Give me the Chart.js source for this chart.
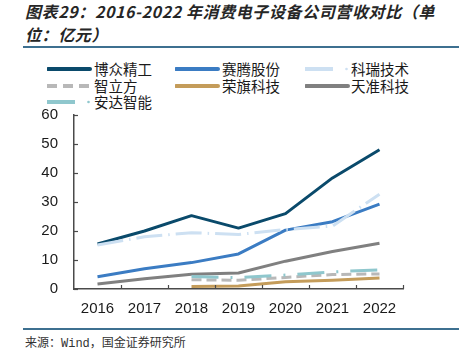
<!DOCTYPE html>
<html><head><meta charset="utf-8">
<script src="https://cdn.jsdelivr.net/npm/chart.js@4"></script>
<style>
html,body{margin:0;padding:0;background:#fff;width:459px;height:354px;overflow:hidden;position:relative;font-family:"Liberation Sans","Noto Sans CJK SC",sans-serif;}
#title{position:absolute;left:25px;top:0px;font-family:"Noto Sans CJK SC";font-size:16px;font-weight:bold;font-style:italic;color:#262626;line-height:23px;letter-spacing:0.6px;white-space:nowrap;}
#rule1{position:absolute;left:23px;top:46px;width:436px;height:2px;background:#3d7090;}
#rule2{position:absolute;left:23px;top:328px;width:436px;height:2px;background:#3d7090;}
#src{position:absolute;left:25px;top:336px;font-family:"Liberation Mono","Noto Sans CJK SC",monospace;font-size:12px;color:#333;line-height:16px;}
.lg{position:absolute;font-family:"Noto Sans CJK SC";font-size:14.5px;color:#1a1a1a;line-height:16px;white-space:nowrap;}
.lg svg{position:absolute;top:0;}
#wrap{position:absolute;left:0;top:90px;width:459px;height:235px;}
</style></head><body>
<div id="title">图表29：2016-2022 年消费电子设备公司营收对比（单<br>位：亿元）</div>
<div id="rule1"></div>
<div id="legend"></div>
<div id="wrap"><canvas id="c" width="459" height="235"></canvas></div>
<div id="rule2"></div>
<div id="src">来源：Wind，国金证券研究所</div>
<script>
const categories = ["2016","2017","2018","2019","2020","2021","2022"];
const seriesNames = ["博众精工","赛腾股份","科瑞技术","智立方","荣旗科技","天准科技","安达智能"];
const bozhong = [15.5, 20.0, 25.3, 21.0, 26.0, 38.3, 48.0];
const saiteng = [4.2, 7.0, 9.1, 12.1, 20.3, 23.2, 29.3];
const kerui = [15.2, 18.0, 19.4, 18.8, 20.5, 21.7, 32.7];
const zhilifang = [null, null, 3.2, 3.0, 4.0, 5.0, 5.2];
const rongqi = [null, null, 0.9, 1.0, 2.5, 3.0, 3.8];
const tianzhun = [1.7, 3.5, 5.1, 5.5, 9.6, 12.9, 15.8];
const anda = [null, null, 4.3, 3.9, 4.8, 5.9, 6.6];
const yTicks = [0,10,20,30,40,50,60];

const styles = [
  {c:"#0a4a6b", d:[]},
  {c:"#3b7cc3", d:[]},
  {c:"#cde0f2", d:[26,6,1.5,6]},
  {c:"#b8b8b8", d:[10,5]},
  {c:"#c49c5a", d:[]},
  {c:"#808080", d:[]},
  {c:"#8fc7cd", d:[27,12,2,12]}
];
const values = [bozhong, saiteng, kerui, zhilifang, rongqi, tianzhun, anda];

// legend (HTML)
const legendPos = [
  {x:47,y:61},{x:175,y:61},{x:305,y:61},
  {x:47,y:78},{x:175,y:78},{x:305,y:78},
  {x:47,y:94}
];
const lgEl = document.getElementById('legend');
seriesNames.forEach((n,i)=>{
  const p = legendPos[i], s = styles[i];
  const d = document.createElement('div');
  d.className='lg';
  d.style.left = p.x+'px'; d.style.top = p.y+'px';
  let line;
  if (i===2 || i===6) {
    line = `<line x1="0" y1="8" x2="28" y2="8" stroke="${s.c}" stroke-width="4"/><circle cx="41.5" cy="8" r="1.3" fill="${s.c}"/>`;
  } else if (i===3) {
    line = `<line x1="0" y1="8" x2="44" y2="8" stroke="${s.c}" stroke-width="4" stroke-dasharray="10,6"/>`;
  } else {
    line = `<line x1="1" y1="8" x2="43" y2="8" stroke="${s.c}" stroke-width="4" stroke-linecap="round"/>`;
  }
  d.innerHTML = `<svg width="46" height="16" style="left:0">${line}</svg><span style="position:absolute;left:${i%3===2?46:47}px;top:0">${n}</span>`;
  lgEl.appendChild(d);
});

const innerTicks = {
  id:'innerTicks',
  afterDraw(chart){
    const ctx = chart.ctx, x = chart.scales.x, y = chart.scales.y;
    ctx.save();
    ctx.strokeStyle = '#4a4a4a'; ctx.lineWidth = 1.2;
    yTicks.forEach(v=>{
      const py = Math.round(y.getPixelForValue(v))+0.5;
      ctx.beginPath(); ctx.moveTo(x.left, py); ctx.lineTo(x.left+4, py); ctx.stroke();
    });
    for (let i=0;i<categories.length;i++){
      const px = Math.round((x.getPixelForValue(i)+x.getPixelForValue(i+1))/2)+0.5;
      ctx.beginPath(); ctx.moveTo(px, y.bottom); ctx.lineTo(px, y.bottom-4); ctx.stroke();
    }
    ctx.restore();
  }
};

new Chart(document.getElementById('c'), {
  type:'line',
  data:{
    labels: categories,
    datasets: seriesNames.map((n,i)=>({
      label:n, data:values[i], borderColor:styles[i].c, backgroundColor:styles[i].c,
      borderDash:styles[i].d, borderWidth:3, pointRadius:0, tension:0, fill:false,
      borderCapStyle:'butt', borderJoinStyle:'round', spanGaps:false
    })).reverse()
  },
  options:{
    responsive:false, animation:false,
    layout:{padding:{left:0,right:56,top:5,bottom:0}},
    plugins:{legend:{display:false}, tooltip:{enabled:false}},
    scales:{
      x:{
        offset:true,
        grid:{display:false, drawTicks:false},
        border:{display:true, color:'#4a4a4a', width:1.5},
        ticks:{color:'#1a1a1a', font:{family:'Liberation Sans', size:15}, padding:11, maxRotation:0},
        afterFit(s){ s.height = 36; }
      },
      y:{
        min:0, max:60,
        afterBuildTicks(s){ s.ticks = yTicks.map(v=>({value:v})); },
        grid:{display:false, drawTicks:false},
        border:{display:true, color:'#4a4a4a', width:1.5},
        ticks:{color:'#1a1a1a', font:{family:'Liberation Sans', size:15}, padding:16},
        afterFit(s){ s.width = 74; }
      }
    }
  },
  plugins:[innerTicks]
});
</script>
</body></html>
